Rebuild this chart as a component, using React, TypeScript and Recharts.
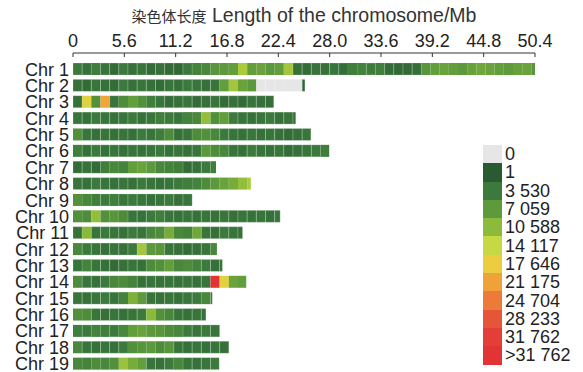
import { BarChart, Bar, XAxis, YAxis, Cell, Legend, Label } from "recharts";

const CHROMOSOMES = [
    "Chr 1", "Chr 2", "Chr 3", "Chr 4", "Chr 5", "Chr 6", "Chr 7", "Chr 8", "Chr 9", "Chr 10",
    "Chr 11", "Chr 12", "Chr 13", "Chr 14", "Chr 15", "Chr 16", "Chr 17", "Chr 18", "Chr 19",
];

// chromosome lengths in Mb
const LENGTHS = [
    50.6, 25.3, 21.9, 24.3, 25.95, 27.95, 15.6, 19.4, 13.0, 22.6,
    18.5, 15.7, 16.3, 18.9, 15.2, 14.5, 16.0, 17.0, 15.95,
];

// marker density per 1 Mb window
const CHR1 = [
    3500, 2500, 4000, 3000, 2000, 3500, 2500, 3000, 2000, 2500,
    1800, 1500, 3500, 4500, 5000, 6500, 7000, 7500, 12500, 7500,
    8000, 7000, 7500, 12000, 2500, 2000, 2800, 2500, 3000, 2200,
    4000, 4500, 3800, 4200, 2000, 1500, 1800, 2200, 6500, 7500,
    8000, 7500, 7000, 7800, 8500, 8000, 7500, 7200, 7800, 8000, 6500,
];
const CHR2 = [
    2500, 2000, 3000, 2500, 2000, 3500, 2500, 3000, 2500, 2000,
    3000, 2500, 3500, 3000, 2500, 3000, 7500, 12000, 8000, 7000,
    0, 0, 0, 0, 0, 1500,
];
const CHR3 = [
    2500, 16500, 6000, 21000, 3000, 5500, 7500, 6000, 4000, 3000,
    2000, 2500, 3000, 2000, 2500, 3000, 2000, 2500, 2000, 3000, 2500, 2200,
];
const CHR4 = [
    3000, 2500, 3500, 3000, 2500, 3000, 3500, 2500, 3000, 4000,
    3500, 3000, 4500, 5000, 11000, 6000, 7500, 3500, 3000, 2500,
    3000, 3500, 2500, 3000, 2500,
];
const CHR5 = [
    6000, 3000, 2500, 3000, 2500, 3000, 2500, 3500, 3000, 4000,
    5500, 2500, 3000, 5500, 6000, 5000, 3500, 3000, 2500, 3000,
    2500, 3000, 2500, 2000, 2500, 3000,
];
const CHR6 = [
    4000, 2500, 3500, 2500, 3000, 2500, 3000, 2500, 3000, 3500,
    2500, 3000, 2500, 3000, 7000, 5500, 5000, 3000, 2500, 3500,
    3000, 2500, 3000, 2000, 2500, 3000, 3500, 4000,
];
const CHR7 = [2000, 2500, 2000, 4000, 5000, 4500, 7500, 8000, 7000, 5000, 4500, 4000, 2000, 2500, 3500, 4000];
const CHR8 = [
    3000, 2500, 3500, 3000, 2500, 3000, 2500, 3500, 3000, 2500,
    3000, 3500, 4000, 4500, 5500, 7000, 8000, 9000, 11000, 12500,
];
const CHR9 = [6000, 5000, 4000, 3500, 4000, 3000, 3500, 3000, 2500, 3000, 3500, 2500, 3000];
const CHR10 = [
    6000, 5500, 11000, 6000, 6500, 5500, 3000, 2500, 3500, 4000,
    3000, 2500, 3000, 2500, 3000, 2500, 3000, 2500, 3000, 2500, 3000, 2500, 3000,
];
const CHR11 = [
    2500, 10500, 3000, 3500, 3000, 2500, 3500, 3000, 5000, 5500,
    9000, 5000, 4500, 8500, 3000, 2500, 3500, 3000, 2500,
];
const CHR12 = [5000, 3500, 3000, 2500, 3000, 2500, 3500, 12000, 7000, 6500, 3000, 2500, 2000, 2500, 3000, 5000];
const CHR13 = [3000, 4500, 3000, 2500, 2000, 2500, 3000, 2500, 5500, 6000, 7500, 5000, 5500, 4500, 3500, 2500, 2500];
const CHR14 = [
    5500, 3000, 2500, 3500, 5000, 5500, 4500, 2500, 3000, 2500,
    3000, 2500, 3000, 2500, 3000, 33000, 16500, 8000, 7500,
];
const CHR15 = [3000, 2500, 3000, 3500, 3000, 4500, 9500, 7000, 3000, 2500, 3000, 2500, 3000, 3500, 5000, 3000];
const CHR16 = [6000, 5500, 3000, 2500, 3000, 2500, 3000, 3500, 10500, 6000, 5000, 3000, 2500, 3000, 2500];
const CHR17 = [4000, 3500, 4500, 4000, 3500, 5000, 7500, 8000, 7000, 6500, 5500, 5000, 3500, 3000, 3500, 3000];
const CHR18 = [5000, 3000, 2500, 3000, 2500, 3500, 6000, 6500, 7000, 5500, 6500, 3000, 2500, 3000, 2500, 3000, 2500];
const CHR19 = [5000, 4500, 5500, 5000, 6000, 11500, 9000, 7500, 3000, 2500, 3500, 5000, 3000, 2500, 3000, 3500];

const DENSITIES = [
    CHR1, CHR2, CHR3, CHR4, CHR5, CHR6, CHR7, CHR8, CHR9, CHR10,
    CHR11, CHR12, CHR13, CHR14, CHR15, CHR16, CHR17, CHR18, CHR19,
];

const X_TICKS = [0, 5.6, 11.2, 16.8, 22.4, 28.0, 33.6, 39.2, 44.8, 50.4];

const LEGEND_LABELS = [
    "0", "1", "3 530", "7 059", "10 588", "14 117", "17 646",
    "21 175", "24 704", "28 233", "31 762", ">31 762",
];
const LEGEND_STOPS = [0, 1, 3530, 7059, 10588, 14117, 17646, 21175, 24704, 28233, 31762];
const LEGEND_COLORS = [
    "#e6e6e6", "#2a5a32", "#3b7a3c", "#5d9a3c", "#8cba3a", "#c6d944",
    "#eccd3f", "#f0a23a", "#ec7a38", "#e65538", "#e33f38", "#e23434",
];

const hexToRgb = (hex: string) => [1, 3, 5].map((i) => parseInt(hex.slice(i, i + 2), 16));

const densityColor = (v: number | undefined) => {
    if (v === undefined || v <= 0) return LEGEND_COLORS[0];
    if (v >= LEGEND_STOPS[LEGEND_STOPS.length - 1]) return LEGEND_COLORS[LEGEND_COLORS.length - 1];
    let i = 1;
    while (v > LEGEND_STOPS[i + 1]) i++;
    const t = (v - LEGEND_STOPS[i]) / (LEGEND_STOPS[i + 1] - LEGEND_STOPS[i]);
    const a = hexToRgb(LEGEND_COLORS[i]);
    const b = hexToRgb(LEGEND_COLORS[i + 1]);
    const mix = a.map((c, k) => Math.round(c + (b[k] - c) * t));
    return `rgb(${mix.join(",")})`;
};

// each row holds the width of every 1 Mb window, stacked left to right
const rows = CHROMOSOMES.map((name, c) => {
    const row: Record<string, number | string> = { name };
    DENSITIES[c].forEach((_, i) => {
        row[`b${i}`] = +Math.min(1, LENGTHS[c] - i).toFixed(2);
    });
    return row;
});

const maxBins = Math.max(...DENSITIES.map((d) => d.length));

const AxisTitle = ({ viewBox }: any) => {
    const cx = viewBox.x + viewBox.width / 2;
    return (
        <text x={cx} y={22} textAnchor="middle" fill="#333">
            <tspan fontFamily="'Noto Sans CJK SC'" fontSize={15}>
                染色体长度
            </tspan>
            <tspan fontFamily="'Liberation Sans', Arial" fontSize={19.5}>
                {" Length of the chromosome/Mb"}
            </tspan>
        </text>
    );
};

const DensityKey = () => (
    <div style={{ display: "flex", flexDirection: "column" }}>
        {LEGEND_LABELS.map((label, i) => (
            <div key={label} style={{ display: "flex", alignItems: "center", height: 18.3 }}>
                <div style={{ width: 19, height: "100%", background: LEGEND_COLORS[i] }} />
                <span style={{ marginLeft: 3, fontSize: 18, lineHeight: "18px", color: "#222", whiteSpace: "nowrap" }}>
                    {label}
                </span>
            </div>
        ))}
    </div>
);

const App = () => {
    return (
        <div
            style={{
                position: "absolute",
                left: 0,
                top: 0,
                width: 583,
                height: 372,
                background: "#fff",
                fontFamily: "'Liberation Sans', Arial, sans-serif",
            }}
        >
            <BarChart
                width={583}
                height={372}
                data={rows}
                layout="vertical"
                margin={{ top: 0, right: 48, left: 0, bottom: 0 }}
            >
                <XAxis
                    type="number"
                    orientation="top"
                    domain={[0, 50.4]}
                    ticks={X_TICKS}
                    allowDataOverflow
                    interval={0}
                    height={53}
                    tickSize={-4}
                    tickMargin={10}
                    tickFormatter={(v: number) => (v === 0 ? "0" : v.toFixed(1))}
                    tick={{ fill: "#222", fontSize: 18 }}
                    stroke="#333"
                >
                    <Label position="insideTop" content={AxisTitle} />
                </XAxis>
                <YAxis
                    type="category"
                    dataKey="name"
                    width={73}
                    interval={0}
                    tickSize={0}
                    tickMargin={4}
                    axisLine={false}
                    tickLine={false}
                    padding={{ top: 8, bottom: 0 }}
                    tick={{ fill: "#222", fontSize: 18 }}
                />
                <Legend
                    layout="vertical"
                    align="center"
                    verticalAlign="middle"
                    wrapperStyle={{ left: 483, top: 145, width: 100 }}
                    content={() => <DensityKey />}
                />
                {Array.from({ length: maxBins }, (_, i) => (
                    <Bar
                        key={i}
                        dataKey={`b${i}`}
                        stackId="chr"
                        barSize={12}
                        isAnimationActive={false}
                    >
                        {CHROMOSOMES.map((name, c) => {
                            const d = DENSITIES[c][i];
                            // darker windows show thin light seams between them
                            const seam = d !== undefined && d > 0 && d < 4000;
                            return (
                                <Cell
                                    key={name}
                                    fill={densityColor(d)}
                                    stroke={seam ? "#ffffff" : "none"}
                                    strokeOpacity={0.35}
                                    strokeWidth={0.6}
                                />
                            );
                        })}
                    </Bar>
                ))}
            </BarChart>
        </div>
    );
};

export default App;
